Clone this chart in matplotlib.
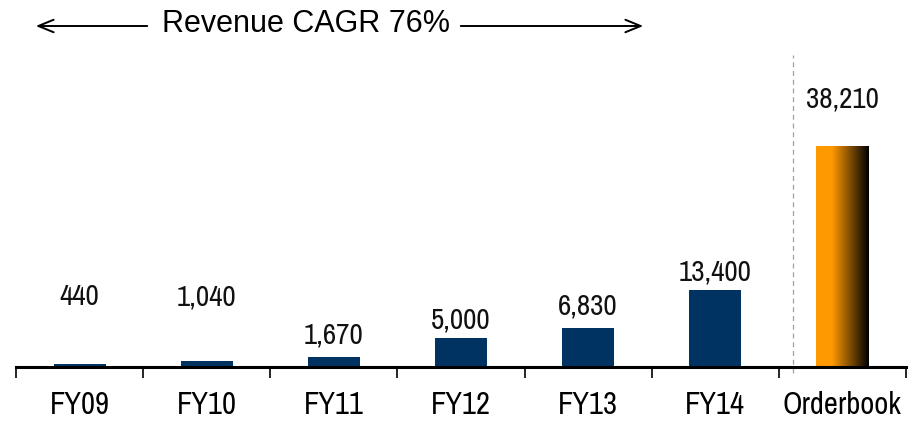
import matplotlib
matplotlib.use('Agg')
import matplotlib.pyplot as plt
import numpy as np

# data
categories = ['FY09', 'FY10', 'FY11', 'FY12', 'FY13', 'FY14', 'Orderbook']
values = [440, 1040, 1670, 5000, 6830, 13400, 38210]
# baseline of value label above bar top, in points
label_offsets = [43, 40, 10, 7, 9.5, 6.5, 28]
cagr_text = 'Revenue CAGR 76%'

narrow = ['Liberation Sans Narrow', 'Archivo Narrow', 'Liberation Sans', 'DejaVu Sans']
regular = ['Liberation Sans', 'Arimo', 'DejaVu Sans']
plt.rcParams['font.family'] = narrow

fig = plt.figure(figsize=(9.22, 4.23), dpi=100)
ax = fig.add_axes([16/922, 56/423, 890/922, 367/423])

x = np.arange(len(categories))
navy = '#003262'
ax.bar(x[:-1], values[:-1], width=0.41, color=navy)

# orderbook bar, orange fading to black on the right
ob = ax.bar(x[-1], values[-1], width=0.41, color='none')[0]
grad = np.linspace(0, 1, 256)
ramp = np.clip((grad - 0.3) / 0.7, 0, 1)
orange = np.array([1.0, 0.6, 0.0])
img = ((1 - ramp)[:, None] * orange[None, :])[None, :, :]
x0 = x[-1] - 0.205
im = ax.imshow(img, extent=[x0, x0 + 0.41, 0, values[-1]], aspect='auto', zorder=2)
im.set_clip_path(ob)

ax.set_xlim(-0.5, 6.5)
ax.set_ylim(0, 63500)

for xi, v, off in zip(x, values, label_offsets):
    ax.annotate(f'{v:,}', (xi, v), xytext=(0, off), textcoords='offset points',
                ha='center', va='baseline', fontsize=21, color='#111111')

# dashed separator
ax.plot([5.61, 5.61], [-1000, 54000], ls=(0, (4, 3)), color='#a0a0a0', lw=0.9, clip_on=False)

for s in ['top', 'right', 'left']:
    ax.spines[s].set_visible(False)
ax.spines['bottom'].set_linewidth(2.2)
ax.set_yticks([])
ax.set_xticks(x)
ax.set_xticklabels(categories, fontsize=22)
ax.tick_params(axis='x', which='major', length=0, pad=17)
ax.set_xticks(np.arange(-0.5, 7, 1), minor=True)
ax.tick_params(axis='x', which='minor', length=8, width=1.2, direction='out')

# CAGR arrow
fig.text(306/922, 1 - 24/423, cagr_text, ha='center', va='center', fontsize=22, family=regular)
ap = dict(arrowstyle='->,head_length=1.1,head_width=0.45', lw=1.4, color='black')
ax.annotate('', xy=(33, 423 - 26), xytext=(150, 423 - 26), xycoords='figure pixels',
            textcoords='figure pixels', arrowprops=ap)
ax.annotate('', xy=(646, 423 - 26), xytext=(458, 423 - 26), xycoords='figure pixels',
            textcoords='figure pixels', arrowprops=ap)

fig.savefig('out.png', dpi=100)
